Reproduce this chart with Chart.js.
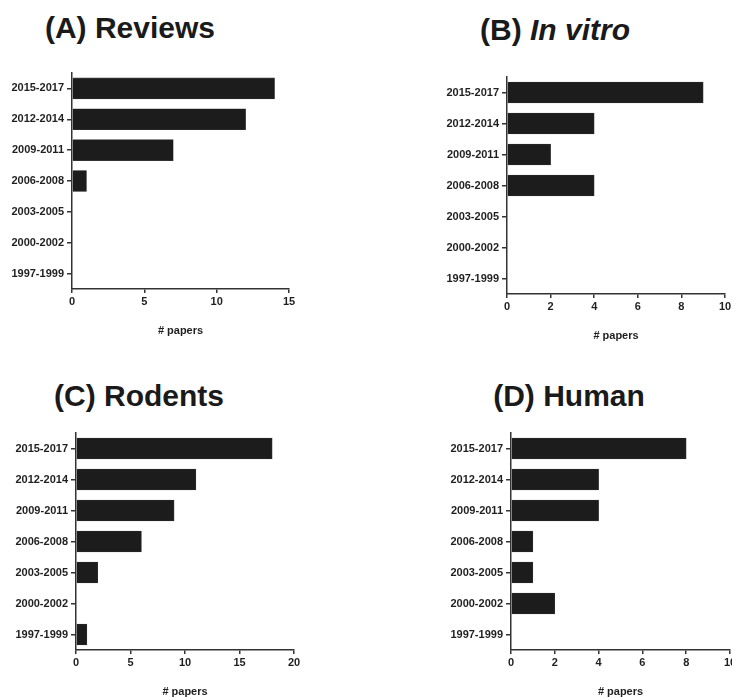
<!DOCTYPE html>
<html lang="en">
<head>
    <meta charset="utf-8"/>
    <title>Papers per period</title>
    <style>
        html, body {
            margin: 0;
            padding: 0;
            background: #FFFFFF;
            overflow: hidden;
            width: 732px;
            height: 698px;
        }

        .panel {
            position: absolute;
        }

        .title {
            position: absolute;
            width: 300px;
            text-align: center;
            font-family: "Liberation Sans", Arial, sans-serif;
            font-weight: bold;
            font-size: 30px;
            line-height: 30px;
            color: #1a1a1a;
            white-space: nowrap;
        }
    </style>
</head>
<body>
    <div class="title" style="left: -20px; top: 13px;">(A) Reviews</div>
    <div class="title" style="left: 405px; top: 15px;">(B) <i>In vitro</i></div>
    <div class="title" style="left: -11px; top: 381px;">(C) Rodents</div>
    <div class="title" style="left: 419px; top: 381px;">(D) Human</div>

    <canvas id="chartA" class="panel"></canvas>
    <canvas id="chartB" class="panel"></canvas>
    <canvas id="chartC" class="panel"></canvas>
    <canvas id="chartD" class="panel"></canvas>

    <script src="https://cdn.jsdelivr.net/npm/chart.js@4.4.0/dist/chart.umd.min.js"></script>
    <script>
        const periods = ["2015-2017", "2012-2014", "2009-2011", "2006-2008", "2003-2005", "2000-2002", "1997-1999"];

        const reviews = [14, 12, 7, 1, 0, 0, 0];
        const inVitro = [9, 4, 2, 4, 0, 0, 0];
        const rodents = [18, 11, 9, 6, 2, 0, 1];
        const human = [8, 4, 4, 1, 1, 2, 0];

        const axisTitle = "# papers";

        Chart.defaults.font.family = '"Liberation Sans", Arial, sans-serif';
        Chart.defaults.font.weight = 'bold';
        Chart.defaults.font.size = 11;
        Chart.defaults.color = '#1f1f1f';

        // box = chart area in page pixels, canvasLeft = where the canvas starts
        function drawPanel(id, values, max, step, canvasLeft, box) {
            const canvas = document.getElementById(id);
            const top = box.y0 - 15;
            const width = box.x1 - canvasLeft + 25;
            const height = box.y1 - box.y0 + 70;
            canvas.style.left = canvasLeft + "px";
            canvas.style.top = top + "px";
            canvas.style.width = width + "px";
            canvas.style.height = height + "px";
            canvas.width = width;
            canvas.height = height;

            return new Chart(canvas.getContext("2d"), {
                type: 'bar',
                data: {
                    labels: periods,
                    datasets: [{
                        data: values,
                        backgroundColor: '#1c1c1c',
                        borderColor: '#3a3a3a',
                        borderWidth: 0.6,
                        borderSkipped: 'left',
                        barThickness: 21
                    }]
                },
                options: {
                    indexAxis: 'y',
                    responsive: false,
                    animation: false,
                    devicePixelRatio: 1,
                    layout: {
                        padding: { left: 0, top: 15, right: 25, bottom: 0 }
                    },
                    plugins: {
                        legend: { display: false },
                        tooltip: { enabled: false }
                    },
                    scales: {
                        x: {
                            min: 0,
                            max: max,
                            ticks: {
                                stepSize: step,
                                padding: 2,
                                color: '#1f1f1f'
                            },
                            grid: {
                                drawOnChartArea: false,
                                tickLength: 4,
                                color: '#333333',
                                lineWidth: 1.5
                            },
                            border: {
                                color: '#333333',
                                width: 1.5
                            },
                            title: {
                                display: true,
                                text: axisTitle,
                                color: '#1f1f1f',
                                font: { size: 11, weight: 'bold' },
                                padding: { top: 0, bottom: 6 }
                            },
                            afterFit: function (scale) {
                                scale.height = 55;
                            }
                        },
                        y: {
                            ticks: {
                                padding: 3,
                                color: '#1f1f1f'
                            },
                            grid: {
                                offset: false,
                                drawOnChartArea: false,
                                tickLength: 5,
                                color: '#333333',
                                lineWidth: 1.5
                            },
                            border: {
                                color: '#333333',
                                width: 1.5
                            },
                            afterFit: function (scale) {
                                scale.width = box.x0 - canvasLeft;
                            }
                        }
                    }
                }
            });
        }

        drawPanel("chartA", reviews, 15, 5, 0, { x0: 72, x1: 289, y0: 73, y1: 289 });
        drawPanel("chartB", inVitro, 10, 2, 430, { x0: 507, x1: 725, y0: 77, y1: 294 });
        drawPanel("chartC", rodents, 20, 5, 0, { x0: 76, x1: 294, y0: 433, y1: 650 });
        drawPanel("chartD", human, 10, 2, 430, { x0: 511, x1: 730, y0: 433, y1: 650 });
    </script>
</body>
</html>
